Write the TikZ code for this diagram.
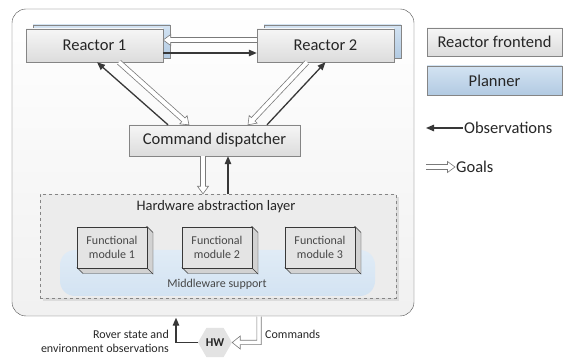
\documentclass[tikz,border=0pt]{standalone}
\usepackage{fontspec}
\setmainfont{Carlito}
\usetikzlibrary{calc,positioning,shapes.geometric,arrows.meta,shadows}

\definecolor{boxline}{HTML}{858585}
\definecolor{boxtop}{HTML}{F6F6F6}
\definecolor{boxbot}{HTML}{DCDCDC}
\definecolor{modfill}{HTML}{E4E4E4}
\definecolor{bluetop}{HTML}{D3E3F2}
\definecolor{bluebot}{HTML}{B2CAE2}
\definecolor{textc}{HTML}{262626}
\definecolor{arrowc}{HTML}{383838}
\definecolor{goalc}{HTML}{7A7A7A}

\tikzset{
  frontend/.style={draw=boxline, top color=boxtop, bottom color=boxbot,
    minimum width=137pt, minimum height=33pt, inner sep=0pt,
    font=\fontsize{16.5}{19}\selectfont, text=textc},
  planner/.style={frontend, top color=bluetop, bottom color=bluebot},
  module/.style={draw=arrowc, fill=modfill, minimum width=70pt, minimum height=41pt,
    inner sep=0pt, align=center, font=\fontsize{12}{14.5}\selectfont, text=textc!85},
  obs/.style={draw=arrowc, line width=1.3pt, -{Triangle[length=8pt,width=6.5pt]}},
  goal/.style={draw=goalc, fill=white, line width=0.6pt, line join=miter},
  small/.style={font=\fontsize{12}{14}\selectfont, text=textc, inner sep=0pt}
}

% hollow arrow: #1 tail, #2 tip
\newcommand\goalarrow[2]{%
  \coordinate (gh) at ($(#2)!7.5pt!(#1)$);
  \draw[goal] ($(#1)!2.5pt!90:(#2)$) -- ($(gh)!2.5pt!90:(#2)$) -- ($(gh)!5.5pt!90:(#2)$)
    -- (#2) -- ($(gh)!5.5pt!-90:(#2)$) -- ($(gh)!2.5pt!-90:(#2)$) -- ($(#1)!2.5pt!-90:(#2)$);
}

\begin{document}
\begin{tikzpicture}[x=1pt,y=-1pt]
  \useasboundingbox (0,0) rectangle (563,358);

  % system frame
  \node[draw=arrowc!90, rounded corners=14pt, top color=white, bottom color=boxtop!80!boxbot,
        minimum width=402pt, minimum height=307pt] (sys) at (213,162.5) {};

  % reactors
  \node[planner] (r1p) at (101.5,41.5) {};
  \node[planner] (r2p) at (332.5,41.5) {};
  \node[frontend] (r1) at (94.5,45.5) {Reactor 1};
  \node[frontend] (r2) at (325.5,45.5) {Reactor 2};
  \node[frontend, minimum width=171pt, minimum height=31pt] (cd) at (214.5,140.5) {Command dispatcher};

  % hardware abstraction layer
  \node[draw=boxline, dashed, fill=boxbot!55!white, minimum width=356pt, minimum height=104pt,
        drop shadow={shadow xshift=3pt, shadow yshift=-3pt, fill=boxbot, opacity=1}] (hal) at (218,246) {};
  \node[font=\fontsize{14.5}{17}\selectfont, text=textc] (halt) at (216,207) {Hardware abstraction layer};
  \node[rounded corners=15pt, top color=bluetop!70!white, bottom color=bluetop,
        minimum width=315pt, minimum height=46pt] (mw) at (217.5,273) {};
  \node[small, text=textc!85] (mwt) at (217,284) {Middleware support};
  \foreach \i/\x in {1/112,2/217,3/320} {
    \draw[arrowc, fill=modfill!92!black] (\x+35,226.5) -- ++(6,6) -- ++(0,41) -- ++(-70,0) -- ++(-6,-6) -- cycle;
    \node[module] (m\i) at (\x,247.5) {Functional\\module \i};
    \draw[arrowc] (m\i.south east) -- ++(6,6);
  }

  % hardware
  \node[regular polygon, regular polygon sides=6, fill=boxbot!80, minimum size=34pt, inner sep=0pt,
        font=\bfseries\fontsize{12}{14}\selectfont, text=textc] (hw) at (215,342.5) {HW};

  % reactor links
  \coordinate (r2g) at ($(r2.west)+(0,-5.5)$);
  \coordinate (r1g) at ($(r1.east)+(0,-5.5)$);
  \goalarrow{r2g}{r1g}
  \draw[obs] ($(r1.east)+(0,7.5)$) -- ($(r2.west)+(0,7.5)$);

  \coordinate (r1a) at ($(r1.south)+(24.5,0)$);
  \coordinate (cd1) at ($(cd.north)+(-25.5,0)$);
  \goalarrow{r1a}{cd1}
  \draw[obs] ($(cd.north)+(-46.5,0)$) -- ($(r1.south)+(2.5,0)$);
  \coordinate (r2a) at ($(r2.south)+(-18.5,0)$);
  \coordinate (cd2) at ($(cd.north)+(33.5,0)$);
  \goalarrow{r2a}{cd2}
  \draw[obs] ($(cd.north)+(52.5,0)$) -- (r2.south);

  \coordinate (cdg) at ($(cd.south)+(-11.5,0)$);
  \coordinate (halg) at (cdg |- hal.north);
  \goalarrow{cdg}{halg}
  \coordinate (halo) at ($(hal.north)+(10,0)$);
  \draw[obs] (halo) -- (halo |- cd.south);

  % hardware links
  \coordinate (rov) at ($(sys.south)+(-37,1.5)$);
  \draw[obs, rounded corners=0pt] (hw.west) -| (rov);
  \coordinate (cmd) at ($(sys.south)+(46,0.5)$);
  \draw[goal] ($(cmd)+(2.2,0)$) -- ($(cmd |- hw.east)+(2.2,2.2)$) -- ($(hw.east)+(8,2.2)$)
    -- ($(hw.east)+(8,6.5)$) -- (hw.east) -- ($(hw.east)+(8,-6.5)$) -- ($(hw.east)+(8,-2.2)$)
    -- ($(cmd |- hw.east)+(-2.2,-2.2)$) -- ($(cmd)+(-2.2,0)$);
  \node[small, anchor=east, align=right] (rovt) at (169,341) {Rover state and\\environment observations};
  \node[small, anchor=west] (cmdt) at (265,334) {Commands};

  % legend
  \node[frontend, minimum width=135pt, minimum height=28pt] (lfront) at (494.5,42) {Reactor frontend};
  \node[planner, minimum width=135pt, minimum height=29pt] (lplan) at (494.5,80.5) {Planner};
  \coordinate (lobs) at (463,128);
  \coordinate (lobse) at (426,128);
  \draw[obs] (lobs) -- (lobse);
  \node[font=\fontsize{16.5}{19}\selectfont, text=textc, anchor=west, inner sep=1pt] (lobst) at (lobs) {Observations};
  \coordinate (lgoal) at (426,167);
  \coordinate (lgoale) at (455,167);
  \goalarrow{lgoal}{lgoale}
  \node[font=\fontsize{16.5}{19}\selectfont, text=textc, anchor=west, inner sep=1pt] (lgoalt) at (lgoale) {Goals};
\end{tikzpicture}
\end{document}
